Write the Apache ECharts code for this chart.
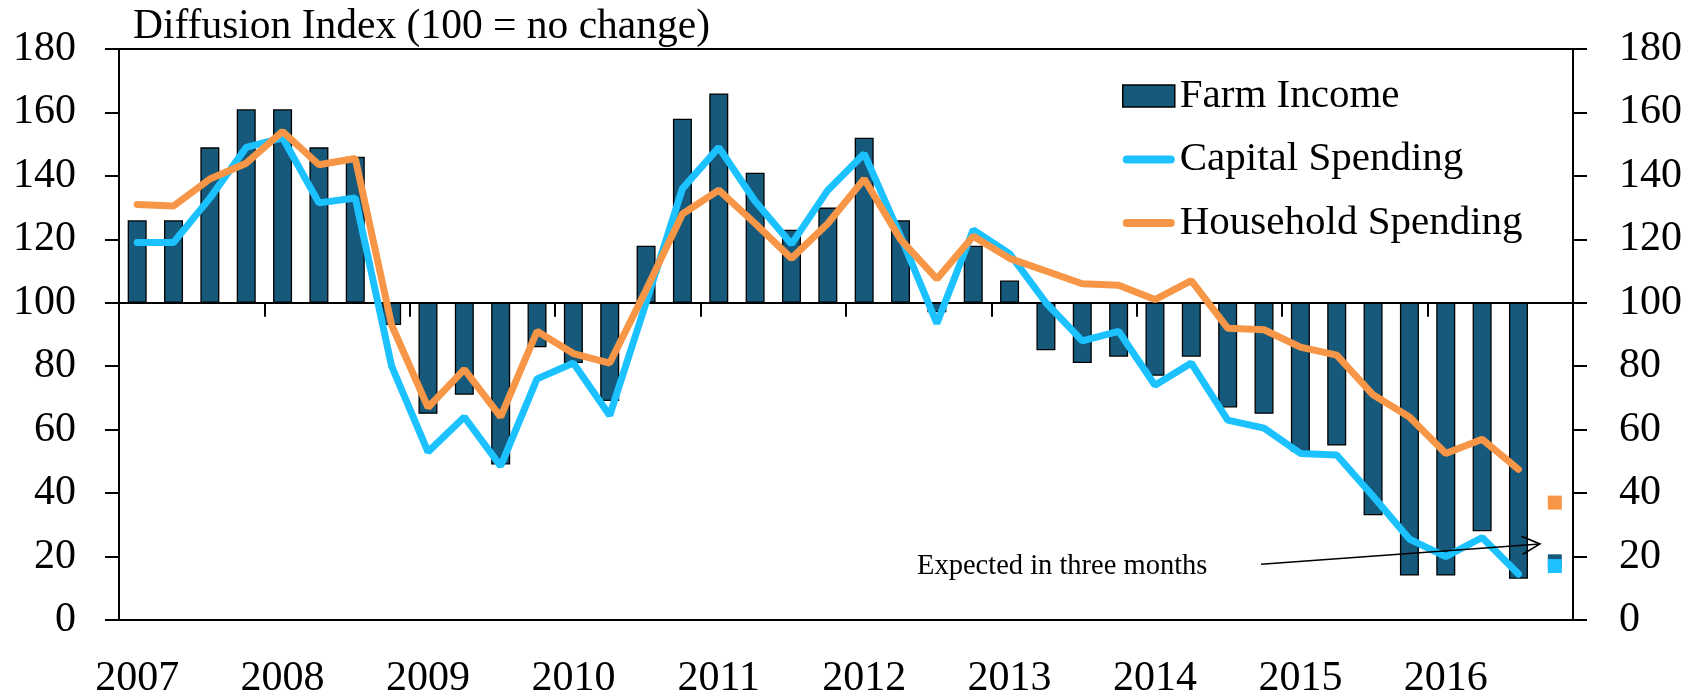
<!DOCTYPE html>
<html><head><meta charset="utf-8">
<script src="https://cdn.jsdelivr.net/npm/echarts@6/dist/echarts.min.js"></script>
<style>html,body{margin:0;padding:0;background:#fff}#c{width:1696px;height:700px}</style>
</head><body><div id="c"></div>
<script>
// Quarterly categories, 2007Q1 .. 2016Q4
const categories = [
  '2007Q1','2007Q2','2007Q3','2007Q4','2008Q1','2008Q2','2008Q3','2008Q4',
  '2009Q1','2009Q2','2009Q3','2009Q4','2010Q1','2010Q2','2010Q3','2010Q4',
  '2011Q1','2011Q2','2011Q3','2011Q4','2012Q1','2012Q2','2012Q3','2012Q4',
  '2013Q1','2013Q2','2013Q3','2013Q4','2014Q1','2014Q2','2014Q3','2014Q4',
  '2015Q1','2015Q2','2015Q3','2015Q4','2016Q1','2016Q2','2016Q3','2016Q4'
];
const farmIncome = [126,126,149,161, 161,149,146,93, 65,71,49,86, 81,69,118,158,
  166,141,123,130, 152,126,97,118, 107,85,81,83, 77,83,67,65, 53,55,33,14, 14,28,13];
const capitalSpending = [119,119,133,149, 152,131.5,133,80, 53,64,48.5,76, 81,64.5,100,136,
  149,132,118.5,135.5, 147,121,93.5,123, 115.5,100,88,91, 74,81,63,60.5, 52.5,52,39,25.5, 20,26,14.5];
const householdSpending = [131,130.5,139,144, 154,143.5,145.5,93, 67,79,64,91, 84,81,104,128,
  135.5,125,114,125, 139,120,107.5,121, 114,110,106,105.5, 101,107,92,91.5, 86,83.5,71,64, 52.5,57,47.5];
// Expected in three months (2016Q4)
const expectedCategory = '2016Q4';
const farmExpected = 18.5;
const capitalExpected = 17;
const householdExpected = 37;
const yTicks = [0,20,40,60,80,100,120,140,160,180];

const FONT = 'Liberation Serif';
const BAR = '#16597B', BLUE = '#1CC2FF', ORANGE = '#F79646';
const LINE_ICON = 'path://M4,0 L48,0 A4,4 0 0 1 48,8 L4,8 A4,4 0 0 1 4,0 Z';

const chart = echarts.init(document.getElementById('c'), null, {renderer:'canvas'});
const yAxisBase = {
  type:'value', min:yTicks[0], max:yTicks[yTicks.length-1], interval:yTicks[1]-yTicks[0],
  axisLine:{show:true, lineStyle:{color:'#000', width:2}},
  axisTick:{show:true, length:14, lineStyle:{color:'#000', width:2}},
  splitLine:{show:false},
  axisLabel:{fontFamily:FONT, fontSize:42, color:'#000'}
};
chart.setOption({
  animation:false,
  backgroundColor:'#fff',
  title:{text:'Diffusion Index (100 = no change)', left:128, top:1,
    textStyle:{fontFamily:FONT, fontSize:41.5, fontWeight:'normal', color:'#000'}},
  grid:{left:119, right:123, top:49, bottom:75, show:true, borderColor:'#000', borderWidth:2, containLabel:false},
  legend:{orient:'vertical', left:1117, top:69, itemWidth:52, itemHeight:22, itemGap:19.5,
    textStyle:{fontFamily:FONT, fontSize:41, color:'#000', lineHeight:44},
    data:[
      {name:'Farm Income', icon:'rect', itemStyle:{borderColor:'#000', borderWidth:1.5}},
      {name:'Capital Spending', icon:LINE_ICON, itemStyle:{color:BLUE, borderWidth:0}},
      {name:'Household Spending', icon:LINE_ICON, itemStyle:{color:ORANGE, borderWidth:0}}
    ]},
  xAxis:[
    {type:'category', data:categories, position:'bottom',
      axisLine:{show:true, onZero:true, onZeroAxisIndex:2, lineStyle:{color:'#000', width:2}},
      axisTick:{show:true, interval:3, length:14, lineStyle:{color:'#000', width:2}},
      axisLabel:{show:false}, splitLine:{show:false}},
    {type:'category', data:categories, position:'bottom',
      axisLine:{show:true, onZero:false, lineStyle:{color:'#000', width:2}},
      axisTick:{show:false},
      axisLabel:{show:true, interval:3, margin:38, fontFamily:FONT, fontSize:42, color:'#000',
        formatter:v=>v.slice(0,4)}, splitLine:{show:false}}
  ],
  yAxis:[
    Object.assign({}, yAxisBase, {position:'left', axisLabel:Object.assign({}, yAxisBase.axisLabel, {margin:43})}),
    Object.assign({}, yAxisBase, {position:'right', axisLabel:Object.assign({}, yAxisBase.axisLabel, {margin:46})}),
    {type:'value', show:false, min:yTicks[0]-100, max:yTicks[yTicks.length-1]-100, splitLine:{show:false}}
  ],
  series:[
    {name:'Farm Income', type:'bar', xAxisIndex:0, yAxisIndex:2, barWidth:19,
      data:farmIncome.map(v=>v-100),
      itemStyle:{color:BAR, borderColor:'#000', borderWidth:1.3}, z:2},
    {name:'Capital Spending', type:'line', xAxisIndex:0, yAxisIndex:0, data:capitalSpending,
      symbol:'none', lineStyle:{color:BLUE, width:7, cap:'round'}, itemStyle:{color:BLUE}, z:3},
    {name:'Household Spending', type:'line', xAxisIndex:0, yAxisIndex:0, data:householdSpending,
      symbol:'none', lineStyle:{color:ORANGE, width:7, cap:'round'}, itemStyle:{color:ORANGE}, z:4},
    {name:'Farm Income expected', type:'scatter', xAxisIndex:0, yAxisIndex:0,
      data:[[expectedCategory, farmExpected]], symbol:'rect', symbolSize:[14,14], itemStyle:{color:BAR, opacity:1}, z:5},
    {name:'Capital Spending expected', type:'scatter', xAxisIndex:0, yAxisIndex:0,
      data:[[expectedCategory, capitalExpected]], symbol:'rect', symbolSize:[14,14], itemStyle:{color:BLUE, opacity:1}, z:6},
    {name:'Household Spending expected', type:'scatter', xAxisIndex:0, yAxisIndex:0,
      data:[[expectedCategory, householdExpected]], symbol:'rect', symbolSize:[14,14], itemStyle:{color:ORANGE, opacity:1}, z:6}
  ],
  graphic:[
    {type:'text', left:917, top:552, z:10,
      style:{text:'Expected in three months', fontFamily:FONT, fontSize:28.5, fill:'#000'}},
    {type:'polyline', z:10, shape:{points:[[1261,564.3],[1540,544]]}, style:{stroke:'#000', lineWidth:1.6, fill:null}},
    {type:'polyline', z:10, shape:{points:[[1521.4,536.3],[1540,544],[1522.7,554.3]]}, style:{stroke:'#000', lineWidth:1.6, fill:null}}
  ]
});
</script></body></html>
